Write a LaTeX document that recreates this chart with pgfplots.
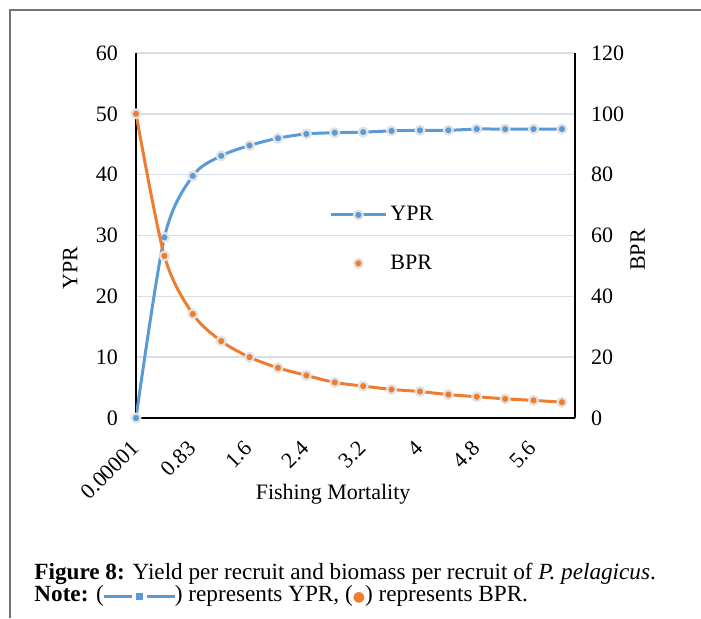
\documentclass[border=0pt]{standalone}
\usepackage{fontspec}
\setmainfont{Liberation Serif}
\newfontfamily\dejavu{DejaVu Sans}
\usepackage{pgfplots}
\usepackage{pgfplotstable}
\pgfplotsset{compat=1.18}
\definecolor{ypr}{HTML}{5B9BD5}
\definecolor{bpr}{HTML}{ED7D31}
\definecolor{gridc}{HTML}{D9DFE8}
\definecolor{halo}{HTML}{E2E2E2}

\pgfplotstableread{
idx ypr bpr
0 0 100
1 29.7 53.3
2 39.8 34.2
3 43.1 25.3
4 44.8 20.0
5 46.0 16.5
6 46.7 14.0
7 46.9 11.7
8 47.0 10.5
9 47.2 9.4
10 47.3 8.7
11 47.3 7.7
12 47.5 7.0
13 47.5 6.3
14 47.5 5.8
15 47.5 5.2
}\datatable

\pgfplotsset{
 common/.style={
  at={(68pt,-209pt)}, anchor=south west,
  scale only axis, width=219.5pt, height=182.5pt,
  xmin=0, xmax=15.46,
  major tick length=0pt,
  tick label style={font=\fontsize{11}{13}\selectfont},
  label style={font=\fontsize{11}{13}\selectfont},
  /pgf/number format/assume math mode=true,
  axis line style={black, line width=0.8pt},
 },
 mk/.style={mark=*, mark size=2.2pt, mark options={fill=#1, draw=halo, line width=1.1pt, solid}},
 yprleg/.style={legend image code/.code={\draw[##1, mark repeat=2, mark phase=2] plot coordinates {(0pt,0pt)(13.75pt,0pt)(27.5pt,0pt)};}},
 bprleg/.style={legend image code/.code={\draw[##1] plot coordinates {(13.75pt,0pt)};}},
}

\begin{document}
\begin{tikzpicture}
\useasboundingbox (0,0) rectangle (350.5pt,-309pt);
\draw[color=black!55, line width=0.8pt] (5pt,-309pt) -- (5pt,-5pt) -- (350.5pt,-5pt);

\begin{axis}[common,
  axis x line*=bottom, axis y line*=left,
  ymin=0, ymax=60, ytick={0,10,...,60},
  yticklabel style={xshift=-5.5pt},
  ymajorgrids, grid style={gridc, line width=0.8pt},
  xtick={0,2,...,14},
  xticklabels={0.00001,0.83,1.6,2.4,3.2,4,4.8,5.6},
  xticklabel style={yshift=-11pt, xshift=2pt, rotate=45, anchor=east},
  xlabel={Fishing Mortality},
  xlabel style={at={(axis description cs:0.449,-0.21)}, anchor=center},
  ylabel={YPR},
  ylabel style={at={(axis description cs:-0.15,0.41)}, anchor=center},
]
\addplot[ypr, line width=1.5pt, smooth, tension=0.5, mk=ypr] table[x=idx,y=ypr]{\datatable};
\end{axis}

\begin{axis}[common,
  axis x line=none, axis y line*=right,
  ymin=0, ymax=120, ytick={0,20,...,120},
  yticklabel style={xshift=4.5pt},
  ylabel={BPR},
  ylabel style={at={(axis description cs:1.143,0.46)}, anchor=center},
  legend style={draw=none, fill=none, at={(axis description cs:0.426,0.49)}, anchor=west,
    row sep=12.5pt, font=\fontsize{11}{13}\selectfont, nodes={inner sep=1.5pt}},
  legend cell align=left,
]
\addlegendimage{ypr, line width=1.5pt, mk=ypr, yprleg}
\addlegendentry{YPR}
\addplot[bpr, line width=1.5pt, smooth, tension=0.5, mk=bpr, forget plot] table[x=idx,y=bpr]{\datatable};
\addlegendimage{bpr, only marks, mk=bpr, bprleg}
\addlegendentry{BPR}
\end{axis}

\node[anchor=base west, inner sep=0pt, font=\fontsize{11.6}{13}\selectfont] at (17pt,-289.5pt)
  {\textbf{Figure 8:} Yield per recruit and biomass per recruit of \textit{P. pelagicus}.};
\node[anchor=base west, inner sep=0pt, font=\fontsize{11.6}{13}\selectfont] at (17pt,-300.5pt)
  {\textbf{Note:} (\textcolor{ypr}{\rule[0.25ex]{14pt}{1.6pt}\hspace{2pt}\rule[0.1ex]{3.5pt}{3.5pt}\hspace{2pt}\rule[0.25ex]{14pt}{1.6pt}}) represents YPR, ({\dejavu\textcolor{bpr}{\fontsize{7}{8}\selectfont●}}) represents BPR.};
\end{tikzpicture}
\end{document}
